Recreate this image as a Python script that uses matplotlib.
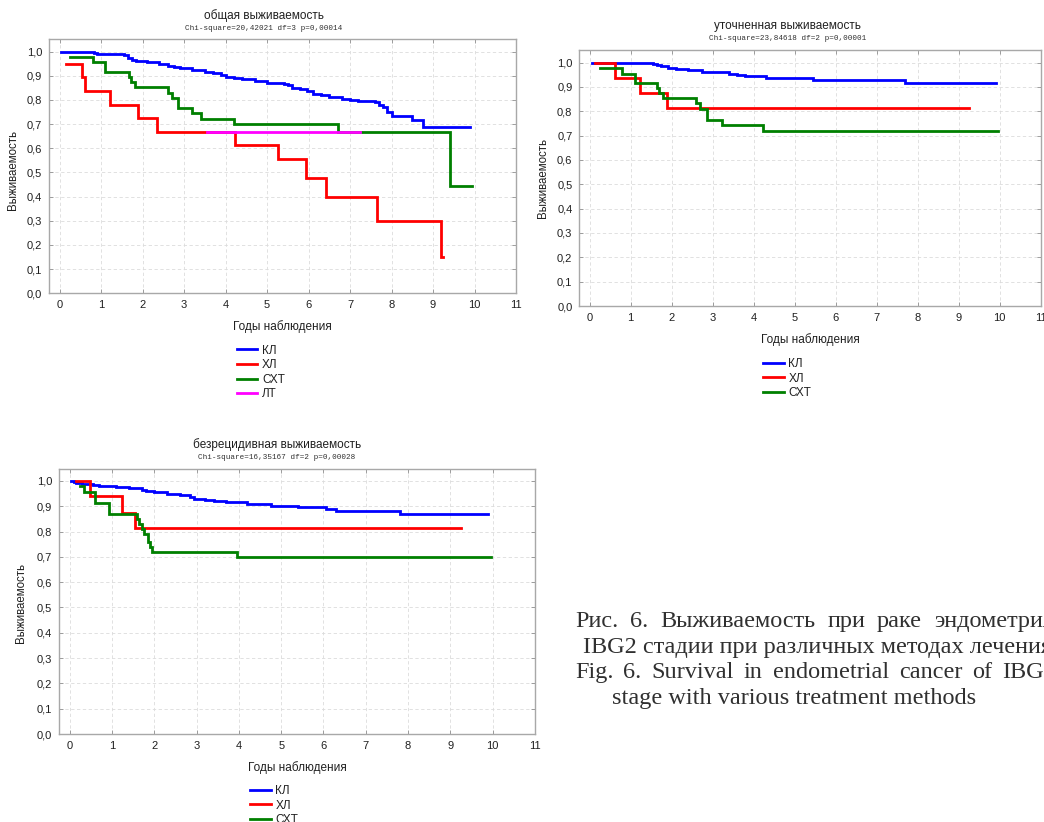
import matplotlib
matplotlib.use("Agg")
import matplotlib.pyplot as plt
from matplotlib.ticker import FuncFormatter, MultipleLocator
from matplotlib.lines import Line2D

plt.rcParams['font.family'] = ['Liberation Sans', 'DejaVu Sans']

W, H = 1044, 822

# --- данные (Каплан-Майер, ступеньки: время начала ступени, выживаемость) ---
groups3 = ['КЛ', 'ХЛ', 'СХТ']
groups4 = ['КЛ', 'ХЛ', 'СХТ', 'ЛТ']

# общая выживаемость
p1_kl_t = [0.03, 0.82, 0.9, 1.55, 1.65, 1.75, 1.85, 2.1, 2.4, 2.6, 2.75, 2.9, 3.2, 3.5, 3.7, 3.9, 4.0,
           4.2, 4.4, 4.7, 5.0, 5.4, 5.5, 5.6, 5.8, 5.95, 6.1, 6.3, 6.5, 6.8, 7.0, 7.2, 7.6, 7.7, 7.8,
           7.9, 8.0, 8.5, 8.75, 9.9]
p1_kl_s = [1.0, 0.995, 0.99, 0.985, 0.975, 0.965, 0.96, 0.955, 0.95, 0.94, 0.935, 0.93, 0.925, 0.915,
           0.91, 0.905, 0.895, 0.89, 0.885, 0.88, 0.87, 0.865, 0.86, 0.85, 0.845, 0.835, 0.825, 0.82,
           0.81, 0.805, 0.8, 0.795, 0.79, 0.78, 0.77, 0.75, 0.735, 0.715, 0.69, 0.69]
p1_xl_t = [0.15, 0.53, 0.62, 1.22, 1.88, 2.35, 4.22, 5.27, 5.93, 6.43, 7.65, 9.2, 9.25]
p1_xl_s = [0.948, 0.895, 0.838, 0.78, 0.725, 0.667, 0.613, 0.557, 0.477, 0.40, 0.30, 0.15, 0.15]
p1_sxt_t = [0.25, 0.8, 1.1, 1.68, 1.72, 1.82, 2.6, 2.7, 2.85, 3.2, 3.4, 4.2, 6.7, 9.4, 9.95]
p1_sxt_s = [0.978, 0.957, 0.915, 0.895, 0.873, 0.853, 0.83, 0.808, 0.765, 0.745, 0.72, 0.70, 0.667,
            0.445, 0.445]
p1_lt_t = [3.55, 7.25]
p1_lt_s = [0.667, 0.667]

# уточненная выживаемость
p2_kl_t = [0.05, 0.82, 1.55, 1.65, 1.75, 1.9, 2.1, 2.4, 2.75, 3.4, 3.6, 3.8, 4.3, 5.1, 5.45, 7.7, 9.9]
p2_kl_s = [1.0, 0.998, 0.995, 0.99, 0.985, 0.98, 0.975, 0.969, 0.96, 0.955, 0.95, 0.945, 0.938,
           0.935, 0.929, 0.918, 0.918]
p2_xl_t = [0.12, 0.63, 1.22, 1.88, 9.25]
p2_xl_s = [1.0, 0.937, 0.875, 0.813, 0.813]
p2_sxt_t = [0.25, 0.8, 1.1, 1.65, 1.7, 1.8, 2.6, 2.7, 2.85, 3.22, 4.23, 9.95]
p2_sxt_s = [0.977, 0.955, 0.915, 0.895, 0.875, 0.853, 0.833, 0.81, 0.765, 0.743, 0.72, 0.72]

# безрецидивная выживаемость
p3_kl_t = [0.03, 0.1, 0.15, 0.3, 0.55, 0.7, 1.1, 1.4, 1.7, 1.8, 2.0, 2.3, 2.6, 2.85, 2.95, 3.2, 3.4,
           3.7, 4.2, 4.75, 5.4, 6.05, 6.3, 7.8, 9.9]
p3_kl_s = [1.0, 0.995, 0.99, 0.988, 0.985, 0.98, 0.975, 0.97, 0.965, 0.96, 0.955, 0.95, 0.945, 0.935,
           0.93, 0.925, 0.92, 0.915, 0.91, 0.90, 0.895, 0.89, 0.883, 0.87, 0.87]
p3_xl_t = [0.15, 0.47, 1.23, 1.55, 9.25]
p3_xl_s = [1.0, 0.94, 0.875, 0.813, 0.813]
p3_sxt_t = [0.25, 0.35, 0.6, 0.93, 1.6, 1.65, 1.7, 1.75, 1.85, 1.9, 1.95, 3.95, 9.95]
p3_sxt_s = [0.98, 0.955, 0.913, 0.87, 0.85, 0.83, 0.81, 0.79, 0.76, 0.74, 0.72, 0.70, 0.70]

titles = ['общая выживаемость', 'уточненная выживаемость', 'безрецидивная выживаемость']
subtitles = ['Chi-square=20,42021 df=3 p=0,00014',
             'Chi-square=23,84618 df=2 p=0,00001',
             'Chi-square=16,35167 df=2 p=0,00028']

caption_ru1 = ['Рис.', '6.', 'Выживаемость', 'при', 'раке', 'эндометрия']
caption_ru2 = 'IBG2 стадии при различных методах лечения'
caption_en1 = ['Fig.', '6.', 'Survival', 'in', 'endometrial', 'cancer', 'of', 'IBG2']
caption_en2 = 'stage with various treatment methods'

colors = {'КЛ': '#0000ff', 'ХЛ': '#ff0000', 'СХТ': '#008000', 'ЛТ': '#ff00ff'}


def fx(px):
    return px / W


def fy(py):
    return 1 - py / H


def make_axes(fig, left, top, right, bottom, ytop):
    ax = fig.add_axes([fx(left), fy(bottom), (right - left) / W, (bottom - top) / H])
    ax.set_xlim(-0.25, 11)
    ax.set_ylim(0, ytop)
    ax.xaxis.set_major_locator(MultipleLocator(1))
    ax.yaxis.set_major_locator(MultipleLocator(0.1))
    ax.xaxis.set_major_formatter(FuncFormatter(lambda v, p: f"{v:.0f}"))
    ax.yaxis.set_major_formatter(FuncFormatter(lambda v, p: f"{v:.1f}".replace('.', ',')))
    ax.tick_params(direction='in', length=3, width=0.6, color='#909090', labelsize=8,
                   labelcolor='#202020', top=True, right=True, pad=5)
    ax.grid(True, linestyle=(0, (4, 3)), color='#dcdcdc', linewidth=0.6)
    ax.set_axisbelow(True)
    for s in ax.spines.values():
        s.set_color('#a8a8a8')
        s.set_linewidth(1.0)
    return ax


def step(ax, t, s, name):
    ax.step(t, s, where='post', color=colors[name], lw=2.0, solid_joinstyle='miter')


fig = plt.figure(figsize=(W / 100, H / 100), dpi=100)

# панель 1
ax1 = make_axes(fig, 49.3, 39, 516, 293.3, 1.052)
step(ax1, p1_kl_t, p1_kl_s, 'КЛ')
step(ax1, p1_xl_t, p1_xl_s, 'ХЛ')
step(ax1, p1_sxt_t, p1_sxt_s, 'СХТ')
step(ax1, p1_lt_t, p1_lt_s, 'ЛТ')

# панель 2
ax2 = make_axes(fig, 579.4, 50, 1040.7, 306, 1.052)
step(ax2, p2_kl_t, p2_kl_s, 'КЛ')
step(ax2, p2_xl_t, p2_xl_s, 'ХЛ')
step(ax2, p2_sxt_t, p2_sxt_s, 'СХТ')

# панель 3
ax3 = make_axes(fig, 59.1, 469, 535, 734, 1.047)
step(ax3, p3_kl_t, p3_kl_s, 'КЛ')
step(ax3, p3_xl_t, p3_xl_s, 'ХЛ')
step(ax3, p3_sxt_t, p3_sxt_s, 'СХТ')

# подписи панелей
panel_txt = [
    # title x, title y, ylabel x, ylabel y, xlabel x, xlabel y, legend x, legend y, groups
    (264, 15.5, 13.5, 170, 282.7, 326.7, 236.7, 344.5, groups4),
    (788, 25.7, 543, 178, 810, 339.5, 763, 358, groups3),
    (277, 444.5, 21, 603, 297, 767.7, 250, 785, groups3),
]
for i, (tx, ty, yx, yy, xx, xy, lx, ly, grp) in enumerate(panel_txt):
    fig.text(fx(tx), fy(ty), titles[i], ha='center', va='center', fontsize=8.5, color='#202020')
    fig.text(fx(tx), fy(ty + 12.5), subtitles[i], ha='center', va='center', fontsize=5.5,
             family='Liberation Mono', color='#303030')
    fig.text(fx(yx), fy(yy), 'Выживаемость', rotation=90, ha='center', va='center',
             fontsize=8.3, color='#202020')
    fig.text(fx(xx), fy(xy), 'Годы наблюдения', ha='center', va='center', fontsize=8.5,
             color='#202020')
    handles = [Line2D([], [], color=colors[g], lw=2.0) for g in grp]
    fig.legend(handles, grp, loc='upper left', bbox_to_anchor=(fx(lx), fy(ly)),
               bbox_transform=fig.transFigure, frameon=False, fontsize=8.5,
               handlelength=1.75, handletextpad=0.4, labelspacing=0.22,
               borderpad=0, borderaxespad=0, labelcolor='#202020')

# подпись рисунка (строки по ширине колонки)
serif = dict(family='Liberation Serif', fontsize=17.5, color='#303030', va='baseline')
renderer = fig.canvas.get_renderer()


def justified(words, x0, x1, y):
    items = [fig.text(0, fy(y), w, ha='left', **serif) for w in words]
    widths = [t.get_window_extent(renderer).width for t in items]
    gap = (x1 - x0 - sum(widths)) / (len(words) - 1)
    x = x0
    for t, w in zip(items, widths):
        t.set_x(fx(x))
        x += w + gap


justified(caption_ru1, 575, 1054, 626.7)
fig.text(fx(583.3), fy(652.7), caption_ru2, ha='left', **serif)
justified(caption_en1, 575, 1056, 678)
fig.text(fx(612), fy(704), caption_en2, ha='left', **serif)

fig.savefig('out.png', dpi=100)
